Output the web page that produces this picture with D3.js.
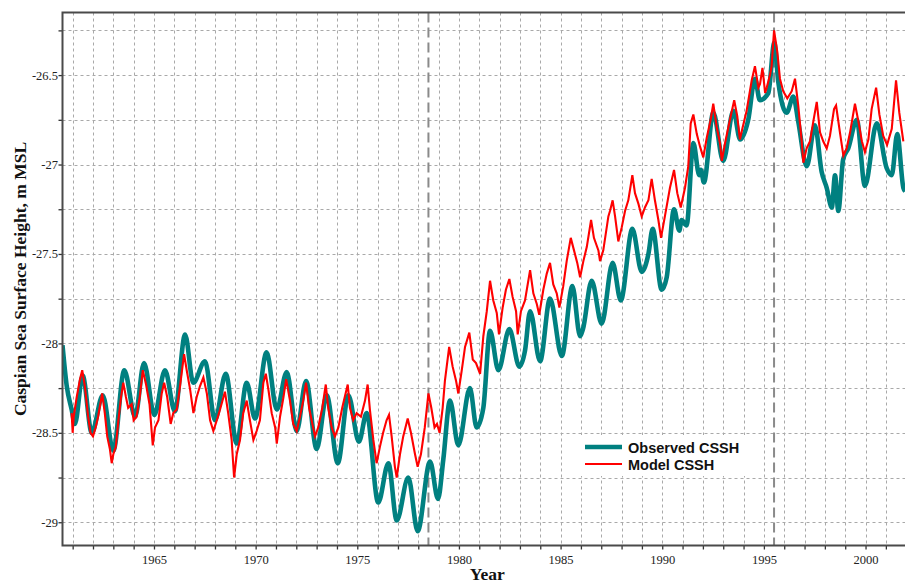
<!DOCTYPE html>
<html>
<head>
<meta charset="utf-8">
<script src="https://cdn.jsdelivr.net/npm/d3@7"></script>
<style>
  html, body { margin: 0; padding: 0; background: #ffffff; }
  svg { display: block; }
</style>
</head>
<body>
<svg id="chart" width="905" height="584"></svg>
<script>
// Observed Caspian Sea surface height (m MSL): seasonal highs and lows
const obsYears = [
  1960.5, 1960.71, 1960.95, 1961.11, 1961.49, 1961.94, 1962.48, 1963.0, 1963.54, 1964.07,
  1964.51, 1965.02, 1965.54, 1966.03, 1966.53, 1966.93, 1967.51, 1968.0, 1968.53, 1969.07,
  1969.56, 1969.97, 1970.54, 1971.04, 1971.53, 1972.02, 1972.48, 1973.0, 1973.5, 1974.04,
  1974.56, 1975.08, 1975.46, 1976.03, 1976.53, 1976.94, 1977.51, 1977.97, 1978.58, 1978.97,
  1979.23, 1979.56, 1979.97, 1980.54, 1980.87, 1981.2, 1981.53, 1981.94, 1982.48, 1982.97,
  1983.25, 1983.5, 1983.99, 1984.48, 1985.06, 1985.58, 1985.96, 1986.1, 1986.53, 1987.02,
  1987.56, 1987.96, 1988.53, 1988.99, 1989.32, 1989.53, 1989.97, 1990.22, 1990.58, 1990.84,
  1990.95, 1991.2, 1991.53, 1991.82, 1991.9, 1992.05, 1992.51, 1993.0, 1993.5, 1993.83,
  1994.23, 1994.56, 1994.8, 1995.22, 1995.51, 1995.71, 1996.12, 1996.45, 1996.69, 1997.11,
  1997.51, 1997.84, 1998.09, 1998.34, 1998.5, 1998.66, 1998.9, 1999.15, 1999.57, 1999.97,
  2000.55, 2001.04, 2001.29, 2001.56, 2001.86, 2001.95
];
const obsValues = [
  -28.01, -28.24, -28.37, -28.45, -28.18, -28.50, -28.29, -28.60, -28.15, -28.41,
  -28.11, -28.40, -28.15, -28.38, -27.95, -28.22, -28.10, -28.43, -28.17, -28.56,
  -28.22, -28.42, -28.05, -28.37, -28.16, -28.49, -28.21, -28.59, -28.29, -28.67,
  -28.29, -28.55, -28.39, -28.89, -28.67, -28.99, -28.75, -29.05, -28.66, -28.87,
  -28.65, -28.32, -28.57, -28.25, -28.47, -28.36, -27.93, -28.15, -27.92, -28.13,
  -28.04, -27.82, -28.10, -27.75, -28.07, -27.68, -27.96, -27.92, -27.65, -27.89,
  -27.55, -27.76, -27.36, -27.60, -27.50, -27.36, -27.70, -27.63, -27.25, -27.37,
  -27.31, -27.34, -26.88, -27.06, -27.03, -27.10, -26.71, -26.98, -26.70, -26.86,
  -26.75, -26.52, -26.64, -26.60, -26.32, -26.54, -26.71, -26.62, -26.76, -27.01,
  -26.78, -27.04, -27.13, -27.24, -27.06, -27.26, -26.97, -26.91, -26.75, -27.12,
  -26.77, -27.02, -27.06, -26.83, -27.13, -27.15
];

// Model Caspian Sea surface height (m MSL)
const modelYears = [
  1960.95, 1961.0, 1961.05, 1961.2, 1961.36, 1961.47, 1961.6, 1961.76, 1961.88, 1962.0,
  1962.13, 1962.25, 1962.45, 1962.58, 1962.7, 1962.83, 1962.92, 1963.0, 1963.12, 1963.25,
  1963.38, 1963.49, 1963.62, 1963.73, 1963.9, 1964.0, 1964.14, 1964.3, 1964.45, 1964.61,
  1964.78, 1964.94, 1965.05, 1965.22, 1965.38, 1965.5, 1965.65, 1965.82, 1965.95, 1966.12,
  1966.28, 1966.48, 1966.61, 1966.78, 1966.94, 1967.1, 1967.26, 1967.43, 1967.6, 1967.76,
  1967.92, 1968.09, 1968.25, 1968.49, 1968.65, 1968.82, 1968.94, 1969.07, 1969.23, 1969.39,
  1969.56, 1969.72, 1969.89, 1970.05, 1970.21, 1970.38, 1970.5, 1970.63, 1970.79, 1970.96,
  1971.04, 1971.2, 1971.37, 1971.5, 1971.69, 1971.85, 1972.02, 1972.18, 1972.34, 1972.48,
  1972.63, 1972.79, 1972.92, 1973.08, 1973.28, 1973.45, 1973.57, 1973.74, 1973.9, 1974.07,
  1974.26, 1974.53, 1974.64, 1974.8, 1974.97, 1975.18, 1975.38, 1975.51, 1975.62, 1975.79,
  1975.95, 1976.11, 1976.27, 1976.44, 1976.56, 1976.69, 1976.85, 1976.94, 1977.1, 1977.26,
  1977.48, 1977.64, 1977.84, 1977.97, 1978.13, 1978.32, 1978.5, 1978.64, 1978.8, 1978.92,
  1979.05, 1979.2, 1979.31, 1979.52, 1979.69, 1979.86, 1979.97, 1980.14, 1980.3, 1980.51,
  1980.68, 1980.84, 1981.04, 1981.2, 1981.37, 1981.53, 1981.69, 1981.86, 1981.97, 1982.15,
  1982.31, 1982.48, 1982.64, 1982.81, 1982.89, 1983.05, 1983.25, 1983.5, 1983.66, 1983.83,
  1983.95, 1984.15, 1984.32, 1984.48, 1984.64, 1984.81, 1984.94, 1985.13, 1985.3, 1985.5,
  1985.66, 1985.82, 1985.96, 1986.12, 1986.29, 1986.5, 1986.64, 1986.86, 1986.94, 1987.1,
  1987.35, 1987.43, 1987.56, 1987.68, 1987.84, 1988.01, 1988.17, 1988.33, 1988.53, 1988.66,
  1988.83, 1988.99, 1989.15, 1989.32, 1989.48, 1989.64, 1989.81, 1989.94, 1990.13, 1990.38,
  1990.58, 1990.74, 1990.91, 1991.12, 1991.28, 1991.4, 1991.53, 1991.7, 1991.86, 1992.02,
  1992.19, 1992.38, 1992.51, 1992.68, 1992.84, 1992.93, 1993.09, 1993.33, 1993.54, 1993.69,
  1993.82, 1993.96, 1994.15, 1994.4, 1994.56, 1994.73, 1994.81, 1994.93, 1995.06, 1995.14,
  1995.3, 1995.38, 1995.5, 1995.66, 1995.79, 1995.95, 1996.15, 1996.37, 1996.53, 1996.69,
  1996.86, 1996.94, 1997.1, 1997.27, 1997.43, 1997.6, 1997.76, 1997.92, 1998.09, 1998.25,
  1998.45, 1998.55, 1998.74, 1998.91, 1999.07, 1999.24, 1999.48, 1999.65, 1999.82, 1999.97,
  2000.14, 2000.3, 2000.52, 2000.68, 2000.87, 2001.06, 2001.29, 2001.5, 2001.66, 2001.86
];
const modelValues = [
  -28.39, -28.50, -28.41, -28.30, -28.20, -28.15, -28.24, -28.41, -28.50, -28.52,
  -28.47, -28.41, -28.28, -28.39, -28.52, -28.59, -28.67, -28.62, -28.58, -28.43,
  -28.30, -28.22, -28.30, -28.36, -28.34, -28.43, -28.41, -28.30, -28.15, -28.23,
  -28.34, -28.57, -28.47, -28.43, -28.28, -28.22, -28.30, -28.45, -28.39, -28.37,
  -28.24, -28.06, -28.15, -28.26, -28.39, -28.30, -28.24, -28.19, -28.28, -28.43,
  -28.49, -28.43, -28.37, -28.27, -28.39, -28.54, -28.75, -28.62, -28.54, -28.39,
  -28.32, -28.43, -28.54, -28.49, -28.43, -28.22, -28.17, -28.26, -28.39, -28.47,
  -28.56, -28.41, -28.30, -28.20, -28.32, -28.45, -28.49, -28.41, -28.32, -28.22,
  -28.36, -28.45, -28.52, -28.47, -28.36, -28.23, -28.36, -28.47, -28.52, -28.47,
  -28.36, -28.23, -28.36, -28.43, -28.39, -28.41, -28.32, -28.23, -28.37, -28.54,
  -28.67, -28.58, -28.50, -28.43, -28.40, -28.52, -28.69, -28.75, -28.62, -28.52,
  -28.42, -28.50, -28.62, -28.69, -28.62, -28.47, -28.28, -28.36, -28.47, -28.45,
  -28.50, -28.36, -28.21, -28.02, -28.13, -28.21, -28.28, -28.15, -28.02, -27.94,
  -28.09, -28.11, -28.17, -27.96, -27.82, -27.65, -27.76, -27.83, -27.95, -27.80,
  -27.70, -27.64, -27.74, -27.82, -27.95, -27.82, -27.76, -27.59, -27.72, -27.78,
  -27.84, -27.70, -27.61, -27.55, -27.67, -27.72, -27.80, -27.68, -27.54, -27.41,
  -27.48, -27.55, -27.63, -27.54, -27.46, -27.31, -27.41, -27.48, -27.54, -27.48,
  -27.29, -27.26, -27.20, -27.29, -27.43, -27.35, -27.26, -27.20, -27.06, -27.16,
  -27.22, -27.29, -27.24, -27.20, -27.08, -27.20, -27.31, -27.41, -27.29, -27.13,
  -27.03, -27.16, -27.24, -27.13, -27.01, -26.77, -26.72, -26.83, -26.90, -26.96,
  -26.85, -26.75, -26.66, -26.79, -26.88, -26.98, -26.88, -26.75, -26.64, -26.73,
  -26.86, -26.79, -26.70, -26.53, -26.45, -26.57, -26.55, -26.46, -26.60, -26.57,
  -26.50, -26.45, -26.25, -26.37, -26.52, -26.59, -26.63, -26.59, -26.52, -26.67,
  -26.87, -26.99, -26.91, -26.87, -26.76, -26.65, -26.82, -26.87, -26.91, -26.84,
  -26.69, -26.67, -26.82, -26.95, -26.91, -26.82, -26.66, -26.76, -26.87, -26.93,
  -26.86, -26.69, -26.57, -26.72, -26.84, -26.89, -26.80, -26.53, -26.71, -26.87
];

// Vertical markers separating the study periods
const periodMarks = [1978.5, 1995.5];

// Axis ticks and labels
const xLabelYears = [1965, 1970, 1975, 1980, 1985, 1990, 1995, 2000];
const xMinorYears = d3.range(1961, 2002);
const yLabelValues = [-26.5, -27, -27.5, -28, -28.5, -29];
const yLabelTexts = ["-26.5", "-27", "-27.5", "-28", "-28.5", "-29"];
const yMinorValues = [-29, -28.75, -28.5, -28.25, -28, -27.75, -27.5, -27.25, -27, -26.75, -26.5, -26.25];

const seriesNames = ["Observed CSSH", "Model CSSH"];
const seriesColors = ["#008080", "#ff0000"];

const obs = obsYears.map((t, i) => ({ t, v: obsValues[i] }));
const model = modelYears.map((t, i) => ({ t, v: modelValues[i] }));

const svg = d3.select("#chart");
const plotL = 62.5, plotR = 906.2, plotT = 12.5, plotB = 545.5;

const x = d3.scaleLinear().domain([1960.5, 2002]).range([plotL, plotR]);
const y = d3.scaleLinear().domain([-29.13, -26.15]).range([plotB, plotT]);

svg.append("rect").attr("width", 905).attr("height", 584).attr("fill", "#ffffff");

const defs = svg.append("defs");
defs.append("clipPath").attr("id", "plot-clip")
  .append("rect").attr("x", plotL).attr("y", plotT)
  .attr("width", plotR - plotL).attr("height", plotB - plotT);

// Dashed grid
const grid = svg.append("g").attr("stroke", "#a9a9a9").attr("stroke-width", 1)
  .attr("stroke-dasharray", "3,3").attr("fill", "none");
grid.selectAll("line.vx").data(xMinorYears).join("line")
  .attr("x1", d => Math.round(x(d)) + 0.5).attr("x2", d => Math.round(x(d)) + 0.5)
  .attr("y1", plotT).attr("y2", plotB);
grid.selectAll("line.hy").data(yMinorValues).join("line")
  .attr("x1", plotL).attr("x2", plotR)
  .attr("y1", d => Math.round(y(d)) + 0.5).attr("y2", d => Math.round(y(d)) + 0.5);

// Period markers
svg.append("g").selectAll("line").data(periodMarks).join("line")
  .attr("x1", d => x(d)).attr("x2", d => x(d))
  .attr("y1", plotT).attr("y2", plotB)
  .attr("stroke", "#8a8a8a").attr("stroke-width", 2)
  .attr("stroke-dasharray", "10,5");

// Series
const plot = svg.append("g").attr("clip-path", "url(#plot-clip)");
plot.append("path").datum(obs)
  .attr("fill", "none").attr("stroke", seriesColors[0])
  .attr("stroke-width", 4.6).attr("stroke-linejoin", "round")
  .attr("d", d3.line().x(d => x(d.t)).y(d => y(d.v)).curve(d3.curveMonotoneX));
plot.append("path").datum(model)
  .attr("fill", "none").attr("stroke", seriesColors[1])
  .attr("stroke-width", 2.1).attr("stroke-linejoin", "miter")
  .attr("d", d3.line().x(d => x(d.t)).y(d => y(d.v)));

// Axes
const xAxis = d3.axisBottom(x).tickValues(xMinorYears).tickSize(4)
  .tickFormat(d => xLabelYears.includes(d) ? String(d) : "");
const gx = svg.append("g").attr("transform", `translate(0,${plotB})`).call(xAxis);
gx.select(".domain").remove();
gx.selectAll(".tick line").attr("stroke", "#333").attr("stroke-width", 1.3);
gx.selectAll(".tick text").attr("dy", "0.9em")
  .attr("font-family", "'Liberation Serif', 'Times New Roman', serif")
  .attr("font-size", 12.5).attr("fill", "#222");

const yAxis = d3.axisLeft(y).tickValues(yMinorValues).tickSize(4)
  .tickFormat(d => {
    const k = yLabelValues.indexOf(d);
    return k >= 0 ? yLabelTexts[k] : "";
  });
const gy = svg.append("g").attr("transform", `translate(${plotL},0)`).call(yAxis);
gy.select(".domain").remove();
gy.selectAll(".tick line").attr("stroke", "#333").attr("stroke-width", 1.3);
gy.selectAll(".tick text").attr("x", -4.5)
  .attr("font-family", "'Liberation Serif', 'Times New Roman', serif")
  .attr("font-size", 12.5).attr("fill", "#222");

// Frame
svg.append("path")
  .attr("d", `M${plotR},${plotT}H${plotL}V${plotB}H${plotR}`)
  .attr("fill", "none").attr("stroke", "#4a4a4a").attr("stroke-width", 2);

// Legend
const lg = svg.append("g");
lg.append("rect").attr("x", 580).attr("y", 435).attr("width", 166).attr("height", 41)
  .attr("fill", "#ffffff");
const legendRows = [
  { name: seriesNames[0], color: seriesColors[0], width: 4.5, yy: 447 },
  { name: seriesNames[1], color: seriesColors[1], width: 2, yy: 464 }
];
legendRows.forEach(r => {
  lg.append("line").attr("x1", 585).attr("x2", 622).attr("y1", r.yy).attr("y2", r.yy)
    .attr("stroke", r.color).attr("stroke-width", r.width);
  lg.append("text").attr("x", 628).attr("y", r.yy + 6.3)
    .attr("font-family", "'Liberation Sans', Arial, sans-serif")
    .attr("font-weight", "bold").attr("font-size", 14.5).attr("fill", "#111")
    .text(r.name);
});

// Axis titles
svg.append("text")
  .attr("transform", `translate(25.5,${(plotT + plotB) / 2}) rotate(-90)`)
  .attr("text-anchor", "middle")
  .attr("font-family", "'Liberation Serif', 'Times New Roman', serif")
  .attr("font-weight", "bold").attr("font-size", 17.5).attr("fill", "#111")
  .text("Caspian Sea Surface Height, m MSL");
svg.append("text")
  .attr("x", (plotL + plotR) / 2 + 3).attr("y", 580)
  .attr("text-anchor", "middle")
  .attr("font-family", "'Liberation Serif', 'Times New Roman', serif")
  .attr("font-weight", "bold").attr("font-size", 17.5).attr("fill", "#111")
  .text("Year");
</script>
</body>
</html>
